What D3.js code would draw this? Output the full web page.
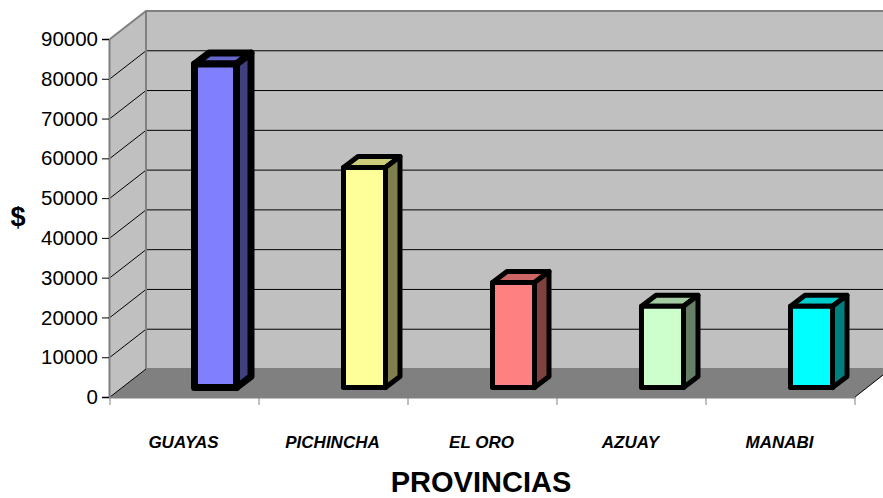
<!DOCTYPE html>
<html><head><meta charset="utf-8">
<script src="https://cdn.jsdelivr.net/npm/d3@7"></script>
<style>html,body{margin:0;padding:0;background:#fff}svg{display:block}text{font-family:"Liberation Sans",Arial,sans-serif;fill:#000}</style>
</head><body><svg id="c" width="883" height="498"></svg>
<script>
const categories = ["GUAYAS","PICHINCHA","EL ORO","AZUAY","MANABI"];
const values = [81300,55300,26400,20400,20400];
const frontColors = ["#8080ff","#ffff99","#ff8080","#ccffcc","#00ffff"];
const topColors = ["#6666cc","#cccc7a","#cc6666","#a3cca3","#00cccc"];
const sideColors = ["#40407f","#7f7f4c","#7f4040","#667f66","#007f7f"];
const yTicks = [0,10000,20000,30000,40000,50000,60000,70000,80000,90000];
const outlineWidths = [7,5,5,5,5];

const svg = d3.select("#c");
const x = d3.scaleBand().domain(categories).range([110,855]);
const y = d3.scaleLinear().domain([0,90000]).range([397,39]);
const dx = 36, dy = -28;
const line = d3.line();

// walls and floor
svg.append("path").attr("d", line([[110,397],[110,39],[146,11],[146,369]])+"Z").attr("fill","#c0c0c0");
svg.append("rect").attr("x",146).attr("y",11).attr("width",745).attr("height",358).attr("fill","#c0c0c0");
svg.append("path").attr("d", line([[110,397],[146,369],[891,369],[855,397]])+"Z").attr("fill","#808080");

// gridlines
yTicks.slice(1,-1).forEach(t=>{
  svg.append("path").attr("d", line([[110,y(t)],[146,y(t)+dy],[883,y(t)+dy]])).attr("fill","none").attr("stroke","#000").attr("stroke-width",1);
});
// wall edges
svg.append("path").attr("d", line([[110,39],[146,11],[883,11]])).attr("fill","none").attr("stroke","#808080").attr("stroke-width",2);
svg.append("path").attr("d", line([[146,11],[146,369],[883,369]])).attr("fill","none").attr("stroke","#808080").attr("stroke-width",2);
svg.append("path").attr("d", line([[110,397],[146,369]])).attr("fill","none").attr("stroke","#000").attr("stroke-width",1);
svg.append("path").attr("d", line([[855,397],[883,375]])).attr("fill","none").attr("stroke","#000").attr("stroke-width",1);

// axes
const yAxis = d3.axisLeft(y).tickValues(yTicks).tickFormat(d3.format("d")).tickSize(7).tickPadding(4);
const gy = svg.append("g").attr("transform","translate(109,0)").call(yAxis);
gy.select(".domain").attr("stroke","#808080").attr("stroke-width",2);
gy.selectAll("line").attr("stroke","#000");
gy.selectAll("text").attr("font-size",20.5);
const xAxis = d3.axisBottom(x).tickValues([]).tickSize(0);
const gx = svg.append("g").attr("transform","translate(0,397)").call(xAxis);
gx.select(".domain").attr("stroke","#808080").attr("stroke-width",2);
const edges = x.domain().map(d=>x(d)).concat([855]);
svg.selectAll("line.xt").data(edges).enter().append("line")
  .attr("x1",d=>d).attr("x2",d=>d).attr("y1",397).attr("y2",405).attr("stroke","#808080").attr("stroke-width",1);

// bars
const barW = 42, ox = 10, base = 387.5, bdx = 14.5, bdy = -11;
categories.forEach((c,i)=>{
  const l = x(c)+x.bandwidth()/2+ox, r = l+barW, t = y(values[i])-(397-base), b = base;
  const g = svg.append("g").attr("stroke","#000").attr("stroke-width",outlineWidths[i]).attr("stroke-linejoin","round");
  g.append("path").attr("d", line([[l,t],[l+bdx,t+bdy],[r+bdx,t+bdy],[r,t]])+"Z").attr("fill",topColors[i]);
  g.append("path").attr("d", line([[r,t],[r+bdx,t+bdy],[r+bdx,b+bdy],[r,b]])+"Z").attr("fill",sideColors[i]);
  g.append("path").attr("d", line([[l,t],[r,t],[r,b],[l,b]])+"Z").attr("fill",frontColors[i]);
});

// labels
categories.forEach(c=>{
  svg.append("text").attr("x",x(c)+x.bandwidth()/2-1).attr("y",448).attr("text-anchor","middle")
    .attr("font-size",17).attr("font-weight","bold").attr("font-style","italic").text(c);
});
svg.append("text").attr("x",481).attr("y",492).attr("text-anchor","middle").attr("font-size",29).attr("font-weight","bold").text("PROVINCIAS");
svg.append("text").attr("x",18).attr("y",226).attr("text-anchor","middle").attr("font-size",27).attr("font-weight","bold").text("$");
</script></body></html>
